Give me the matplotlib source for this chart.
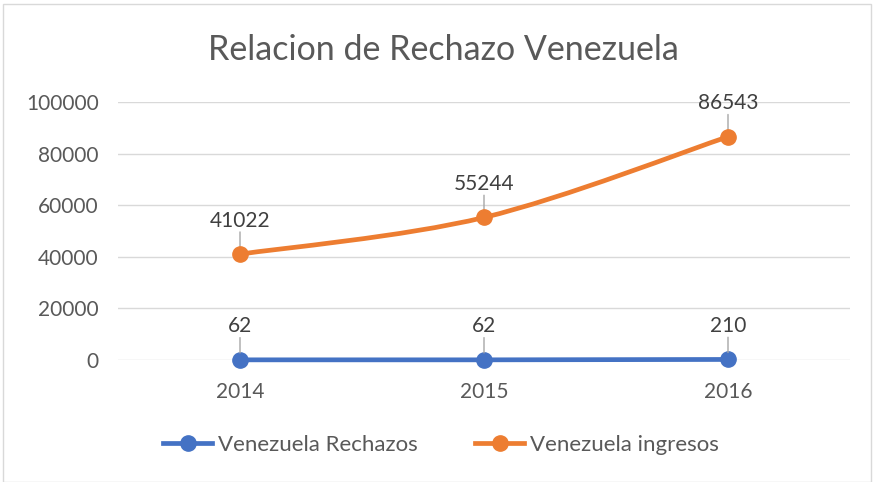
import matplotlib
matplotlib.use("Agg")
import matplotlib.pyplot as plt
from matplotlib.path import Path
from matplotlib.patches import PathPatch, Rectangle
from matplotlib.lines import Line2D
import numpy as np

years = ["2014", "2015", "2016"]
rechazos = [62, 62, 210]
ingresos = [41022, 55244, 86543]
yticks = [0, 20000, 40000, 60000, 80000, 100000]

BLUE = "#4472C4"
ORANGE = "#ED7D31"
TXT = "#595959"
GRID = "#D9D9D9"

plt.rcParams['font.family'] = ['Lato', 'DejaVu Sans']

fig = plt.figure(figsize=(8.74, 4.82), dpi=100)
ax = fig.add_axes([118/874, 1-360/482, (850-118)/874, (360-102)/482])
ax.set_xlim(-0.5, len(years)-0.5)
ax.set_ylim(0, 100000)
ax.set_yticks(yticks)
ax.set_yticklabels([str(v) for v in yticks], fontsize=15, color=TXT)
ax.set_xticks(range(len(years)))
ax.set_xticklabels(years, fontsize=15, color=TXT)
ax.tick_params(axis='both', length=0)
ax.tick_params(axis='y', pad=14)
ax.tick_params(axis='x', pad=16)
for s in ax.spines.values():
    s.set_visible(False)
ax.grid(axis='y', color=GRID, linewidth=1)
ax.set_axisbelow(True)

x = np.arange(len(years))

# Smoothed orange line (Catmull-Rom style Bezier in display space)
def smooth_path(xs, ys):
    pts = ax.transData.transform(np.column_stack([xs, ys]))
    n = len(pts)
    verts = [pts[0]]
    codes = [Path.MOVETO]
    for i in range(n-1):
        p0 = pts[i-1] if i > 0 else pts[i]
        p1 = pts[i]
        p2 = pts[i+1]
        p3 = pts[i+2] if i+2 < n else pts[i+1]
        c1 = p1 + (p2 - p0) / 6
        c2 = p2 - (p3 - p1) / 6
        verts += [c1, c2, p2]
        codes += [Path.CURVE4]*3
    return Path(verts, codes)

ax.plot(x, rechazos, color=BLUE, linewidth=3.4, marker='o', markersize=11,
        solid_capstyle='round', zorder=3, clip_on=False)
patch = PathPatch(smooth_path(x, ingresos), transform=None, facecolor='none',
                  edgecolor=ORANGE, linewidth=3.4, capstyle='round', zorder=3)
ax.add_patch(patch)
ax.plot(x, ingresos, linestyle='none', color=ORANGE, marker='o', markersize=11,
        zorder=4, clip_on=False)

def label(xi, yi, text):
    ax.annotate(text, xy=(xi, yi), xytext=(0, 17), textcoords='offset points',
                ha='center', va='bottom', fontsize=15, color='#404040',
                annotation_clip=False)
    ax.annotate('', xy=(xi, yi), xytext=(0, 16), textcoords='offset points',
                xycoords='data',
                arrowprops=dict(arrowstyle='-', color='#A6A6A6', lw=1,
                                shrinkA=0, shrinkB=5))

for xi, v in zip(x, rechazos):
    label(xi, v, str(v))
for xi, v in zip(x, ingresos):
    label(xi, v, str(v))

fig.text(443/874, 1-50/482, "Relacion de Rechazo Venezuela", ha='center', va='center',
         fontsize=24.5, color=TXT)

handles = [Line2D([], [], color=BLUE, lw=3.4, marker='o', markersize=11),
           Line2D([], [], color=ORANGE, lw=3.4, marker='o', markersize=11)]
fig.legend(handles, ["Venezuela Rechazos", "Venezuela ingresos"], loc='center',
           bbox_to_anchor=(441/874, 1-445/482), ncol=2, frameon=False,
           fontsize=16, labelcolor=TXT, handlelength=2.2, columnspacing=2.6,
           handletextpad=0.25)

fig.patches.append(Rectangle((3/874, 0), 1-6/874, 1-4/482, transform=fig.transFigure,
                             fill=False, edgecolor='#D9D9D9', linewidth=1))

fig.savefig("out.png", dpi=100, facecolor='white')
